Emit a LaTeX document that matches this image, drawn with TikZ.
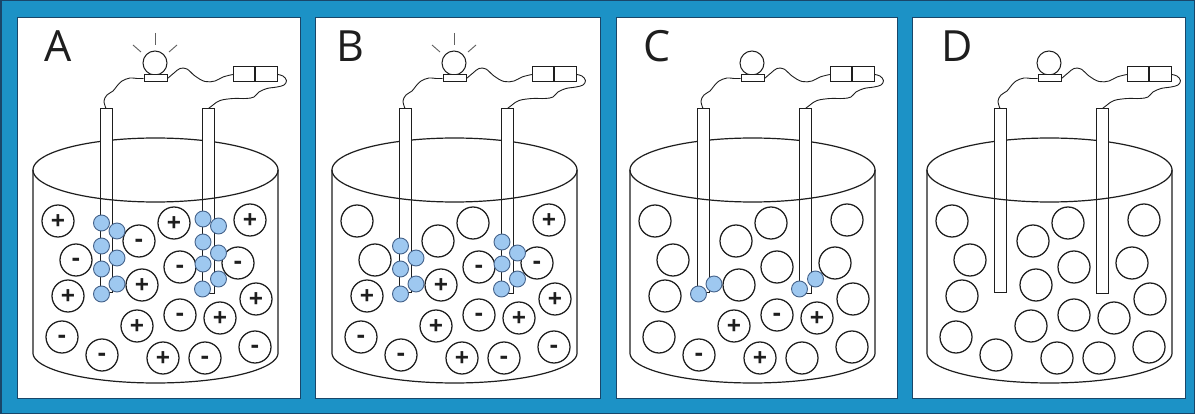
\documentclass[tikz,border=0pt]{standalone}
\usepackage{fontspec}
\setmainfont{Open Sans}
\definecolor{frameblue}{RGB}{28,146,198}
\definecolor{frameedge}{RGB}{25,70,105}
\definecolor{ink}{RGB}{30,30,30}
\definecolor{ballfill}{RGB}{158,200,240}
\definecolor{balledge}{RGB}{70,100,140}
\tikzset{
  x=1pt, y=-1pt,
  panelbox/.style={fill=white, draw=frameedge, line width=1pt},
  letter/.style={anchor=base west, inner sep=0pt, text=ink, font=\fontsize{43}{43}\selectfont},
  vessel/.style={draw=ink, line width=1.2pt},
  electrode/.style={rectangle, draw=ink, fill=white, line width=1pt, minimum width=12pt, inner sep=0pt},
  ion/.style={circle, draw=ink, line width=1.25pt, fill=white, minimum size=32pt, inner sep=0pt,
    text=ink, text height=17.6pt, text depth=0pt, font=\fontsize{25}{25}\selectfont\bfseries},
  ball/.style={circle, draw=balledge, line width=0.9pt, fill=ballfill, minimum size=16pt, inner sep=0pt},
  bulb/.style={circle, draw=ink, line width=1pt, fill=white, minimum size=24pt, inner sep=0pt},
  lampbase/.style={rectangle, draw=ink, line width=1pt, fill=white, minimum width=23pt, minimum height=7pt, inner sep=0pt},
  cell/.style={rectangle, draw=ink, line width=1pt, fill=white, minimum width=21.5pt, minimum height=15pt, inner sep=0pt},
  wire/.style={draw=ink, line width=0.9pt},
  ray/.style={draw=ink!70, line width=0.9pt},
}
% 0 = neutral, 1 = positive, 2 = negative
\newcommand\ionmark[1]{\ifcase#1\relax\or+\or\raisebox{2.3pt}{-}\fi}
% #1 prefix, #2 x shift, #3 letter, #4 letter x, #5 ion charges, #6 lamp lit
\newcommand\cellpanel[6]{%
\begin{scope}[xshift=#2pt]
  \node[letter] (#1-tag) at (#4,62) {#3};
  % back rim of the beaker
  \draw[vessel] plot[variable=\t, domain=180:360, samples=72] ({155.5+122.5*cos(\t)},{170+32*sin(\t)});
  % electrodes
  \node[electrode, minimum height=184pt] (#1-L) at (106,201) {};
  \node[electrode, minimum height=185pt] (#1-R) at (208.5,201.5) {};
  % front rim, walls and bottom
  \draw[vessel] plot[variable=\t, domain=180:0, samples=72] ({155.5+122.5*cos(\t)},{170+32*sin(\t)});
  \draw[vessel] (33,170) -- (33,353) -- plot[variable=\t, domain=180:0, samples=72] ({155.5+122.5*cos(\t)},{353+30*sin(\t)}) -- (278,170);
  % ions in solution
  \foreach \px/\py [count=\i] in {58/221, 76/260, 68/296, 62/337, 102/355, 139/241, 142/285,
      137/326, 163/358, 174/223, 180/267, 180/315, 220/318, 205/358, 250/220, 238/263, 256/299, 255/347} {
    \pgfmathtruncatemacro\code{{#5}[\i-1]}
    \node[ion] (#1-ion\i) at (\px,\py) {\ionmark{\code}};
  }
  % lamp and battery
  \node[bulb] (#1-bulb) at (155,63) {};
  \node[lampbase] (#1-base) at (155.5,78.5) {};
  \ifnum#6=1
    \draw[ray] (155,33) -- (155,45);
    \draw[ray] (133,45) -- (141,52);
    \draw[ray] (177,45) -- (169,52);
  \fi
  \node[cell] (#1-battL) at (244,74.5) {};
  \node[cell, anchor=west] (#1-battR) at (#1-battL.east) {};
  % wiring
  \draw[wire] plot[smooth, tension=0.6] coordinates {(#1-L.north) (104,101) (107,95) (113,91) (117,86)
      (122,81) (130,78) (137,78.5) (#1-base.west)};
  \draw[wire] plot[smooth, tension=0.6] coordinates {(#1-base.east) (174,73) (180,68.5) (187,69) (195,76)
      (205,81.5) (215,81) (223,77) (#1-battL.west)};
  \draw[wire] plot[smooth, tension=0.6] coordinates {(#1-battR.east) (283,76) (286.5,80.5) (284,85) (277,87)
      (267,88.5) (259,92) (254,97) (246,98.5) (233,98.5) (220,100.5) (213,105) (#1-R.north)};
\end{scope}}
% charge carriers stuck to the electrodes
\newcommand\adsorbed[3]{%
\begin{scope}[xshift=#2pt]
  \foreach \bx/\by [count=\j] in {#3} {\node[ball] (#1-ball\j) at (\bx,\by) {};}
\end{scope}}
\begin{document}
\begin{tikzpicture}
\useasboundingbox (0,0) rectangle (1195,414);
\fill[frameblue] (0,0) rectangle (1195,414);
\draw[frameedge, line width=1.5pt] (0.75,0.75) rectangle (1194.25,413.25);
\path[panelbox] (17,18) rectangle (300,398);
\path[panelbox] (315,18) rectangle (600,398);
\path[panelbox] (616,18) rectangle (897,398);
\path[panelbox] (912,18) rectangle (1185,398);

\cellpanel{a}{0}{A}{44}{1,2,1,2,2,2,1,1,1,1,2,2,1,2,1,2,1,2}{1}
\cellpanel{b}{299}{B}{37}{0,0,1,2,2,0,1,1,1,0,2,2,1,2,1,2,1,2}{1}
\cellpanel{c}{597}{C}{46}{0,0,0,0,2,0,0,1,1,0,0,2,1,0,0,0,0,0}{0}
\cellpanel{d}{894}{D}{47}{0,0,0,0,0,0,0,0,0,0,0,0,0,0,0,0,0,0}{0}

\adsorbed{a}{0}{101.5/223, 101.5/246, 101.5/269, 101.5/294, 117/231, 117/258, 117/284,
  203/219, 203/242, 203/264, 202.5/289, 218.5/226, 218.5/253, 218.5/279}
\adsorbed{b}{299}{101.5/246, 101.5/269, 101.5/294, 117/258, 117/284,
  203/242, 203/264, 202.5/289, 218.5/253, 218.5/279}
\adsorbed{c}{597}{101.5/294, 117/284, 202.5/289, 218.5/279}
\end{tikzpicture}
\end{document}
